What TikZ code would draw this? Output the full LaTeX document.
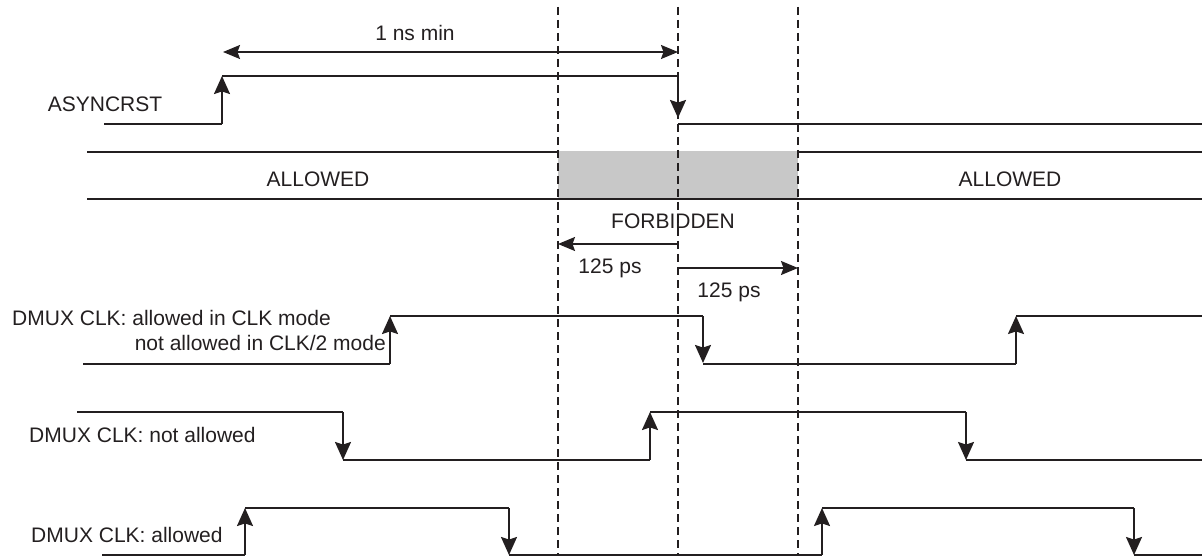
\documentclass[tikz,border=0pt]{standalone}
\usepackage{fontspec}
\setmainfont{Liberation Sans}
\usepackage{tikz}
\usetikzlibrary{arrows.meta, positioning}

\definecolor{inkblack}{RGB}{35,31,32}
\definecolor{forbidgray}{RGB}{200,200,200}

\tikzset{
    sig/.style={line width=1.8pt, inkblack},
    edge/.style={sig, -{Stealth[length=18pt,width=16pt,inset=2.5pt]}},
    dim/.style={line width=1.6pt, inkblack, {Stealth[length=17pt,width=14pt,inset=2.5pt]}-{Stealth[length=17pt,width=14pt,inset=2.5pt]}},
    dimend/.style={line width=1.6pt, inkblack, -{Stealth[length=17pt,width=14pt,inset=2.5pt]}},
    guide/.style={line width=1.4pt, inkblack, dash pattern=on 8pt off 5pt},
    forbid/.style={fill=forbidgray},
    lbl/.style={font=\fontsize{21}{25}\selectfont, text=inkblack, inner sep=0pt},
}

\begin{document}
\begin{tikzpicture}[x=1pt,y=-1pt]
        \useasboundingbox (0,0) rectangle (1202,556);
        % guide positions
        \foreach \n/\x in {fa/558, fb/678, fc/798} {
            \coordinate (\n) at (\x,7);
        }

        % allowed / forbidden band
        \draw[sig] (87,152) -- (1202,152);
        \draw[sig] (87,199) -- (1202,199);
        \fill[forbid] (fa |- 0,151) rectangle (fc |- 0,198);
        \foreach \n in {fa, fb, fc} {
            \draw[guide] (\n) -- (\n |- 0,556);
        }
        \node[lbl] (allowedL) at (318,179) {ALLOWED};
        \node[lbl] (allowedR) at (1010,179) {ALLOWED};
        \node[lbl] (forbidden) at (673,221) {FORBIDDEN};

        % min pulse width
        \coordinate (rstrise) at (223,52);
        \draw[dim] (rstrise) -- (fb |- 0,52);
        \node[lbl] (onens) at (415,33) {1 ns min};

        % window either side of reset release
        \draw[dimend] (fb |- 0,244) -- (fa |- 0,244);
        \draw[dimend] (fb |- 0,268) -- (fc |- 0,268);
        \node[lbl] (psL) at (610,268) {125 ps};
        \node[lbl] (psR) at (729,292) {125 ps};

        % ASYNCRST
        \node[lbl] (asyncrst) at (105,104) {ASYNCRST};
        \draw[sig] (104,124) -- (222,124);
        \draw[edge] (222,124) -- (222,76);
        \draw[sig] (222,76) -- (678,76);
        \draw[edge] (678,76) -- (678,118);
        \draw[sig] (678,124) -- (1202,124);

        % DMUX CLK: allowed in CLK mode
        \node[lbl, anchor=west] (clkA) at (12,318) {DMUX CLK: allowed in CLK mode};
        \node[lbl, anchor=east] (clkB) at (386,343) {not allowed in CLK/2 mode};
        \draw[sig] (83,364) -- (390,364);
        \draw[edge] (390,364) -- (390,316);
        \draw[sig] (390,316) -- (703,316);
        \draw[edge] (703,316) -- (703,363);
        \draw[sig] (703,364) -- (1016,364);
        \draw[edge] (1016,364) -- (1016,316);
        \draw[sig] (1016,316) -- (1202,316);

        % DMUX CLK: not allowed
        \node[lbl, anchor=west] (clkNo) at (29,435) {DMUX CLK: not allowed};
        \draw[sig] (77,412) -- (343,412);
        \draw[edge] (343,412) -- (343,460);
        \draw[sig] (343,460) -- (650,460);
        \draw[edge] (650,460) -- (650,412);
        \draw[sig] (650,412) -- (966,412);
        \draw[edge] (966,412) -- (966,460);
        \draw[sig] (966,460) -- (1202,460);

        % DMUX CLK: allowed
        \node[lbl, anchor=west] (clkYes) at (31,535) {DMUX CLK: allowed};
        \draw[sig] (102,555) -- (245,555);
        \draw[edge] (245,555) -- (245,508);
        \draw[sig] (245,508) -- (509,508);
        \draw[edge] (509,508) -- (509,555);
        \draw[sig] (509,555) -- (822,555);
        \draw[edge] (822,555) -- (822,508);
        \draw[sig] (822,508) -- (1134,508);
        \draw[edge] (1134,508) -- (1134,555);
        \draw[sig] (1134,555) -- (1202,555);
    \end{tikzpicture}
\end{document}
